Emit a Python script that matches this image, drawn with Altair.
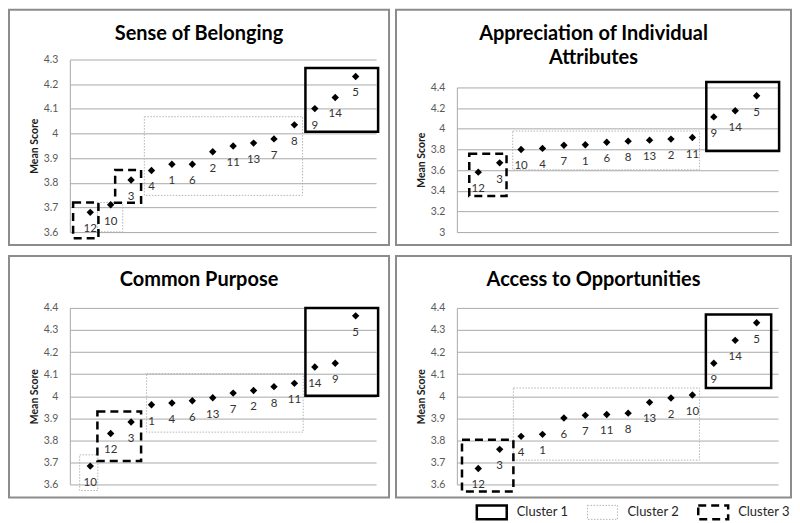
import altair as alt
import pandas as pd

# ---------------- data ----------------
belong_groups = ["12", "10", "3", "4", "1", "6", "2", "11", "13", "7", "8", "9", "14", "5"]
belong_scores = [3.680, 3.711, 3.811, 3.850, 3.875, 3.875, 3.926, 3.949, 3.961, 3.978, 4.035, 4.101, 4.146, 4.231]
belong_box_cluster = [1, 2, 2, 3, 3]
belong_box_x0 = [11.54, 3.65, 1.35, 2.22, 0.16]
belong_box_x1 = [15.10, 11.40, 2.59, 3.49, 1.40]
belong_box_y0 = [4.007, 3.749, 3.601, 3.719, 3.575]
belong_box_y1 = [4.266, 4.068, 3.720, 3.852, 3.720]

attr_groups = ["12", "3", "10", "4", "7", "1", "6", "8", "13", "2", "11", "9", "14", "5"]
attr_scores = [3.58, 3.67, 3.80, 3.81, 3.84, 3.845, 3.87, 3.88, 3.89, 3.90, 3.915, 4.115, 4.175, 4.32]
attr_box_cluster = [1, 2, 3]
attr_box_x0 = [11.65, 2.61, 0.58]
attr_box_x1 = [15.05, 11.33, 2.32]
attr_box_y0 = [3.784, 3.603, 3.35]
attr_box_y1 = [4.453, 3.978, 3.759]

purpose_groups = ["10", "12", "3", "1", "4", "6", "13", "7", "2", "8", "11", "14", "9", "5"]
purpose_scores = [3.683, 3.831, 3.883, 3.961, 3.969, 3.979, 3.993, 4.014, 4.026, 4.043, 4.058, 4.132, 4.149, 4.364]
purpose_box_cluster = [1, 2, 2, 3]
purpose_box_x0 = [11.54, 3.76, 0.48, 1.35]
purpose_box_x1 = [15.10, 11.43, 1.37, 3.49]
purpose_box_y0 = [4.002, 3.837, 3.5725, 3.706]
purpose_box_y1 = [4.400, 4.102, 3.734, 3.931]

access_groups = ["12", "3", "4", "1", "6", "7", "11", "8", "13", "2", "10", "9", "14", "5"]
access_scores = [3.672, 3.759, 3.818, 3.827, 3.901, 3.913, 3.917, 3.923, 3.972, 3.992, 4.005, 4.149, 4.253, 4.333]
access_box_cluster = [1, 2, 3]
access_box_x0 = [11.63, 2.64, 0.24]
access_box_x1 = [14.68, 11.33, 2.64]
access_box_y0 = [4.037, 3.710, 3.568]
access_box_y1 = [4.370, 4.037, 3.8025]

ticks_a = [3.6, 3.7, 3.8, 3.9, 4.0, 4.1, 4.2, 4.3]
ticks_b = [3.0, 3.2, 3.4, 3.6, 3.8, 4.0, 4.2, 4.4]
ticks_c = [3.6, 3.7, 3.8, 3.9, 4.0, 4.1, 4.2, 4.3, 4.4]

legend_names = ["Cluster 1", "Cluster 2", "Cluster 3"]

# ---------------- styling ----------------
FONT = "Lato"
GRID = "#a9a9a9"
FRAME = "#8c8c8c"
L_IN, R_IN, B_IN = 61, 13, 13


def panel(title, groups, scores, bc, bx0, bx1, by0, by1, ydomain, yticks, W, H, top, inner_top, title_y):
    df = pd.DataFrame({"pos": list(range(1, len(groups) + 1)), "group": groups, "score": scores})
    bx = pd.DataFrame({"cluster": bc, "x0": bx0, "x1": bx1, "y0": by0, "y1": by1})
    one = pd.DataFrame({"k": [0]})
    xs = alt.Scale(domain=[0, 15], nice=False, zero=False)
    ys = alt.Scale(domain=ydomain, nice=False, zero=False, range=[H, inner_top])
    yax = alt.Axis(
        title="Mean Score", values=yticks, format="~g",
        grid=True, gridColor=GRID, gridWidth=1,
        domain=True, domainColor=GRID, ticks=False, tickSize=0,
        labelPadding=12, labelFont=FONT, labelFontSize=10.5, labelColor="#595959",
        titleFont=FONT, titleFontSize=10.5, titleFontWeight="bold", titleColor="#1a1a1a",
        titlePadding=4,
    )

    frame = alt.Chart(one).mark_rect(filled=False, stroke=FRAME, strokeWidth=2).encode(
        x=alt.value(-L_IN), x2=alt.value(W + R_IN), y=alt.value(-top), y2=alt.value(H + B_IN)
    )

    def boxes(cl, **style):
        return alt.Chart(bx[bx.cluster == cl]).mark_rect(filled=False, **style).encode(
            x=alt.X("x0:Q", scale=xs, axis=None), x2="x1:Q",
            y=alt.Y("y0:Q", scale=ys, axis=yax), y2="y1:Q",
        )

    c2 = boxes(2, stroke="#b5b5b5", strokeWidth=1, strokeDash=[1.5, 1.5])
    c3 = boxes(3, stroke="black", strokeWidth=2.5, strokeDash=[8, 5])
    c1 = boxes(1, stroke="black", strokeWidth=2.5)

    pts = alt.Chart(df).mark_point(shape="diamond", filled=True, size=55, color="black", opacity=1).encode(
        x=alt.X("pos:Q", scale=xs, axis=None),
        y=alt.Y("score:Q", scale=ys, axis=yax),
    )
    lbl = alt.Chart(df).mark_text(dy=17, font=FONT, fontSize=11.5, color="#333333").encode(
        x=alt.X("pos:Q", scale=xs, axis=None),
        y=alt.Y("score:Q", scale=ys, axis=yax),
        text="group:N",
    )
    ttl = alt.Chart(one).mark_text(
        text=title, lineBreak="\n", lineHeight=24, font=FONT, fontWeight="bold", fontSize=20,
        color="black", align="center", baseline="alphabetic",
    ).encode(x=alt.value((W + R_IN - L_IN) / 2), y=alt.value(title_y))

    return alt.layer(frame, c2, c3, c1, pts, lbl, ttl).properties(width=W, height=H)


p1 = panel("Sense of Belonging", belong_groups, belong_scores, belong_box_cluster, belong_box_x0,
           belong_box_x1, belong_box_y0, belong_box_y1, [3.6, 4.3], ticks_a, 307, 173, 50, 0, -20)
p2 = panel("Appreciation of Individual\nAttributes", attr_groups, attr_scores, attr_box_cluster, attr_box_x0,
           attr_box_x1, attr_box_y0, attr_box_y1, [3.0, 4.4], ticks_b, 322, 173, 50, 28, -20)
p3 = panel("Common Purpose", purpose_groups, purpose_scores, purpose_box_cluster, purpose_box_x0,
           purpose_box_x1, purpose_box_y0, purpose_box_y1, [3.6, 4.4], ticks_c, 307, 177, 52, 0, -22)
p4 = panel("Access to Opportunities", access_groups, access_scores, access_box_cluster, access_box_x0,
           access_box_x1, access_box_y0, access_box_y1, [3.6, 4.4], ticks_c, 322, 177, 52, 0, -22)

# ---------------- legend ----------------
leg = pd.DataFrame({"name": legend_names, "i": [0, 1, 2]})
lx = alt.X("i:Q", scale=alt.Scale(domain=[0, 2], range=[423, 645]), axis=None)


def swatch(i, **style):
    return alt.Chart(leg[leg.i == i]).mark_rect(filled=False, xOffset=-15, x2Offset=15, **style).encode(
        x=lx, x2="i:Q", y=alt.value(0), y2=alt.value(14)
    )


sw1 = swatch(0, stroke="black", strokeWidth=2.5)
sw2 = swatch(1, stroke="#b5b5b5", strokeWidth=1, strokeDash=[1.5, 1.5])
sw3 = swatch(2, stroke="black", strokeWidth=2.5, strokeDash=[8, 5])
ltxt = alt.Chart(leg).mark_text(align="left", baseline="middle", dx=25, font=FONT, fontSize=13,
                                color="#262626").encode(x=lx, y=alt.value(7), text="name:N")
legend = alt.layer(sw1, sw2, sw3, ltxt).properties(width=714, height=14)

rows = alt.vconcat(alt.hconcat(p1, p2, spacing=5), alt.hconcat(p3, p4, spacing=5), spacing=9)
chart = (
    alt.vconcat(rows, legend, spacing=5)
    .properties(padding=0)
    .configure(font=FONT)
    .configure_view(strokeWidth=0, stroke="transparent")
)

chart.save("out.html", embed_options={"renderer": "svg", "actions": False})
